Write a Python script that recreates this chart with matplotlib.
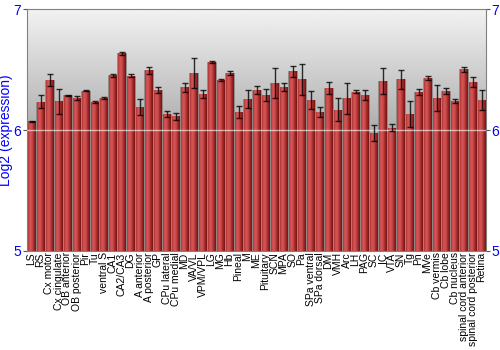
import numpy as np
import matplotlib
matplotlib.use('Agg')
import matplotlib.pyplot as plt
from matplotlib.colors import LinearSegmentedColormap

plt.rcParams['font.family'] = ['Liberation Sans', 'DejaVu Sans']

regions = ['LS', 'RS', 'Cx motor', 'Cx cingulate', 'OB anterior', 'OB posterior',
           'Pir', 'Tu', 'ventral S', 'CA1', 'CA2/CA3', 'DG', 'A anterior',
           'A posterior', 'GP', 'CPu lateral', 'CPu medial', 'MD', 'VA/VL',
           'VPM/VPL', 'LG', 'MG', 'Hb', 'Pineal', 'M', 'ME', 'Pituitary', 'SCN',
           'MPA', 'SO', 'Pa', 'SPa ventral', 'SPa dorsal', 'DM', 'VMH', 'Arc',
           'LH', 'PAG', 'SC', 'IC', 'VTA', 'SN', 'Tg', 'Pn', 'MVe', 'Cb vermis',
           'Cb lobe', 'Cb nucleus', 'spinal cord anterior',
           'spinal cord posterior', 'Retina']

expr = [6.074, 6.234, 6.413, 6.237, 6.287, 6.264, 6.325, 6.234, 6.267, 6.452,
        6.634, 6.449, 6.190, 6.493, 6.331, 6.130, 6.113, 6.353, 6.468, 6.300,
        6.562, 6.413, 6.474, 6.151, 6.259, 6.328, 6.287, 6.388, 6.353, 6.485,
        6.419, 6.248, 6.149, 6.347, 6.168, 6.264, 6.317, 6.292, 5.978, 6.405,
        6.017, 6.419, 6.130, 6.314, 6.433, 6.267, 6.325, 6.240, 6.502, 6.397,
        6.248]

err = [0.004, 0.054, 0.047, 0.103, 0.005, 0.014, 0.005, 0.008, 0.010, 0.010,
       0.013, 0.012, 0.069, 0.027, 0.025, 0.026, 0.028, 0.039, 0.124, 0.033,
       0.011, 0.008, 0.018, 0.048, 0.076, 0.033, 0.050, 0.124, 0.033, 0.047,
       0.128, 0.074, 0.044, 0.051, 0.094, 0.129, 0.011, 0.040, 0.065, 0.110,
       0.029, 0.081, 0.107, 0.022, 0.017, 0.107, 0.023, 0.014, 0.022, 0.045,
       0.079]

yticks = [5, 6, 7]

fig = plt.figure(figsize=(5, 3.5), dpi=100)
ax = fig.add_axes([0.054, 0.283, 0.918, 0.691])

x = np.arange(len(regions))
ax.set_xlim(-0.5, len(regions) - 0.5)
ax.set_ylim(5, 7)

# gray gradient background: light at top, darker towards the 6 line
bg = np.linspace(0.0, 1.0, 256).reshape(-1, 1)
bg = np.where(bg > 0.5, 0.68 + (bg - 0.5) * 2 * 0.27, 0.55 + bg * 2 * 0.13)
ax.imshow(bg, cmap='gray', vmin=0, vmax=1, aspect='auto', origin='lower',
          extent=(-0.5, len(regions) - 0.5, 5, 7), zorder=0)

bar_cmap = LinearSegmentedColormap.from_list(
    'barred', ['#ad3636', '#d65656', '#cc4a4a', '#a02828', '#721414'])
grad = np.linspace(0, 1, 64).reshape(1, -1)

bars = ax.bar(x, np.array(expr) - 5, bottom=5, width=1.0, color='#b33a3a',
              edgecolor='#8f8f8f', linewidth=0.6, zorder=2)
for b in bars:
    bx, by = b.get_x(), b.get_y()
    im = ax.imshow(grad, cmap=bar_cmap, aspect='auto',
                   extent=(bx + 0.07, bx + b.get_width() - 0.07, by, by + b.get_height()),
                   zorder=2.5)
    im.set_clip_path(b)

ax.errorbar(x, expr, yerr=err, fmt='none', ecolor='black', elinewidth=1,
            capsize=2, capthick=1, alpha=0.8, zorder=4)

ax.axhline(6, color='white', lw=1, alpha=0.6, zorder=3)

ax.set_xticks(x)
ax.set_xticklabels(regions, rotation=90, fontsize=7.5)
ax.tick_params(axis='x', length=0, pad=1)
ax.set_yticks(yticks)
ax.set_yticklabels([str(t) for t in yticks], color='blue', fontsize=10)
ax.tick_params(axis='y', which='both', left=True, right=True,
               labelleft=True, labelright=True, length=3, pad=1, color='#555555')
ax.set_ylabel('Log2 (expression)', color='blue', fontsize=10)
ax.yaxis.set_label_coords(-0.03, 0.5)

for s in ['left', 'right', 'top', 'bottom']:
    ax.spines[s].set_color('#808080')

fig.savefig('out.png', dpi=100)
